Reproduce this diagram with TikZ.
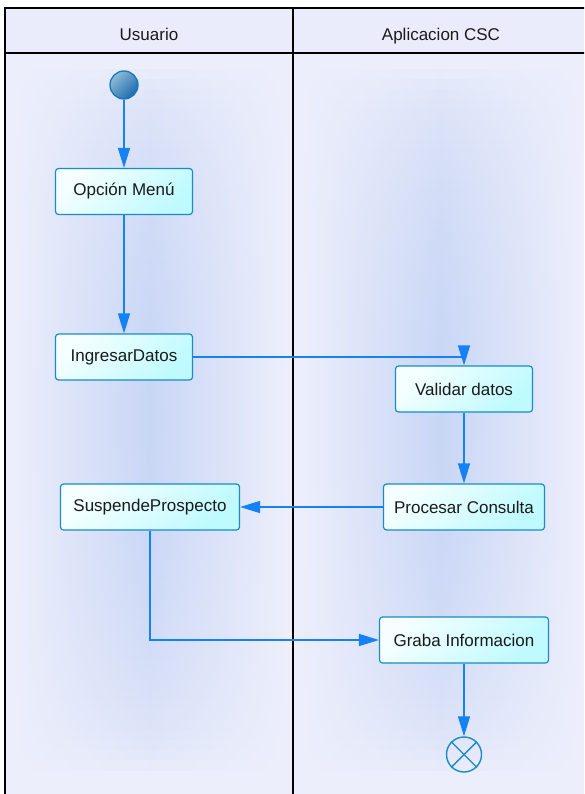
\documentclass[tikz,border=0pt]{standalone}
\usepackage{fontspec}
\setmainfont{Liberation Sans}
\usetikzlibrary{arrows.meta}

\definecolor{lanebg}{HTML}{ECEEFB}
\definecolor{laneband}{HTML}{C8D6F5}
\definecolor{headbg}{HTML}{EAECFB}
\definecolor{boxedge}{HTML}{1A8AC8}
\definecolor{boxtop}{HTML}{F6FFFF}
\definecolor{boxbot}{HTML}{BEFAFF}
\definecolor{flow}{HTML}{1482F5}
\definecolor{startedge}{HTML}{1A78B8}
\definecolor{startlight}{HTML}{90BAD6}
\definecolor{startdark}{HTML}{1A6CAC}
\definecolor{ink}{HTML}{1A1A1A}

\tikzset{
  activity/.style={draw=boxedge, line width=1.2pt, rounded corners=3pt,
    shading=axis, top color=boxtop, bottom color=boxbot, shading angle=45,
    minimum height=46pt, inner sep=0pt, text=ink},
  startnode/.style={circle, draw=startedge, line width=1.3pt, minimum size=28pt,
    inner sep=0pt, shading=axis, top color=startlight, bottom color=startdark, shading angle=45},
  endnode/.style={circle, draw=boxedge, line width=1.4pt, minimum size=35pt, inner sep=0pt},
  flowline/.style={draw=flow, line width=1.5pt, -{Triangle[length=20pt,width=12pt]}},
  lanehead/.style={text=ink, inner sep=0pt, anchor=base},
  frameline/.style={draw=black, line width=1.8pt}
}

\begin{document}
\begin{tikzpicture}[x=1pt, y=-1pt, font=\fontsize{17}{20}\selectfont]
\useasboundingbox (0,0) rectangle (584,794);
\begin{scope}
\clip (0,0) rectangle (584,794);

% swimlane backgrounds
\fill[lanebg] (5,53) rectangle (293,800);
\fill[lanebg] (293,53) rectangle (592,800);
\fill[headbg] (5,8) rectangle (592,53);

% soft shaded band down the middle of each lane, built from thin strips
\foreach \i in {0,...,69} {
  \pgfmathsetmacro\p{100*sqrt(sin(180*(\i+0.5)/70))}
  \fill[left color=lanebg, right color=lanebg, middle color=laneband!\p!lanebg]
    (12,{70+\i*10}) rectangle (286,{80.6+\i*10});
  \fill[left color=lanebg, right color=lanebg, middle color=laneband!\p!lanebg]
    (300,{70+\i*10}) rectangle (582,{80.6+\i*10});
}

% swimlane frame
\draw[frameline] (5,800) -- (5,8) -- (592,8);
\draw[frameline] (5,53) -- (592,53);
\draw[frameline] (293,8) -- (293,800);

% lane titles
\node[lanehead] (usuario) at (149,41) {Usuario};
\node[lanehead] (aplicacion) at (441,41) {Aplicacion CSC};

% activities
\node[startnode] (start) at (124,85) {};
\node[activity, minimum width=137pt] (menu) at (124,191.5) {Opción Menú};
\node[activity, minimum width=137pt] (ingresar) at (124,357) {IngresarDatos};
\node[activity, minimum width=137pt] (validar) at (464,389) {Validar datos};
\node[activity, minimum width=161pt] (procesar) at (464,507) {Procesar Consulta};
\node[activity, minimum width=179pt] (suspende) at (150,507) {SuspendeProspecto};
\node[activity, minimum width=169pt] (graba) at (464,640) {Graba Informacion};
\node[endnode] (end) at (464,754.5) {};
\draw[boxedge, line width=1.4pt] (end.north west) -- (end.south east)
  (end.north east) -- (end.south west);

% control flow
\draw[flowline] (start) -- (menu);
\draw[flowline] (menu) -- (ingresar);
\draw[flowline] (ingresar.east) -| (validar.north);
\draw[flowline] (validar) -- (procesar);
\draw[flowline] (procesar) -- (suspende);
\draw[flowline] (suspende.south) |- (graba.west);
\draw[flowline] (graba) -- (end);
\end{scope}
\end{tikzpicture}
\end{document}
